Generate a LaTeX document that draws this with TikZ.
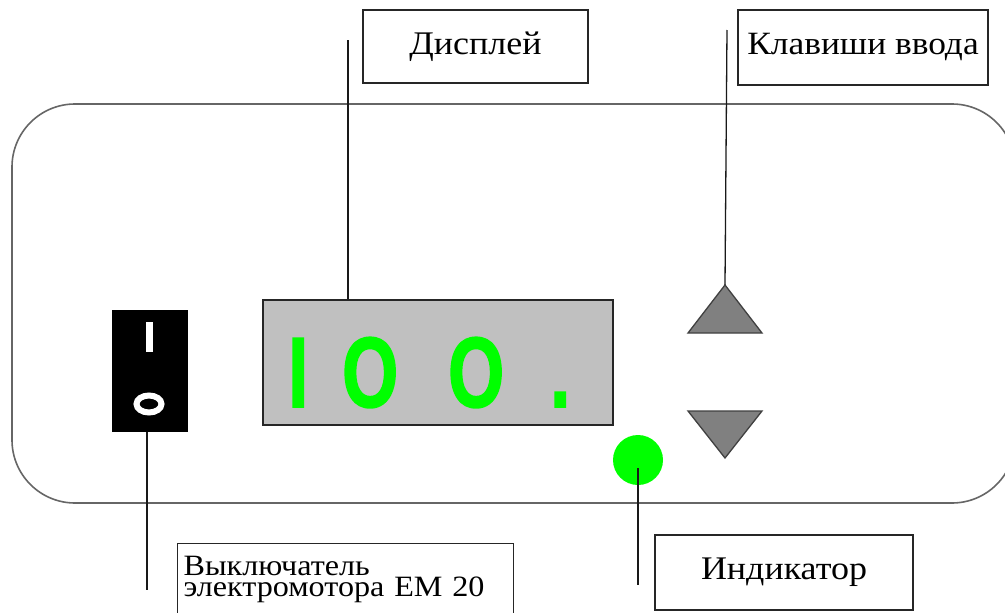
\documentclass[tikz,border=0pt]{standalone}
\usepackage{fontspec}
\setmainfont{Liberation Serif}[FakeStretch=1.09]
\newfontfamily\digitfont{Liberation Sans}[FakeStretch=0.72, FakeBold=1.5]
\usetikzlibrary{calc}
\definecolor{dispgray}{HTML}{C0C0C0}
\definecolor{keygray}{HTML}{808080}
\definecolor{ledgreen}{HTML}{00FF00}
\tikzset{
	labelbox/.style = {draw=black!85, line width=1.3pt, inner sep=0pt,
		font=\fontsize{33}{35}\selectfont, text centered},% boite de legende
	leader/.style = {draw=black!90, line width=1.3pt},% trait de rappel
	housing/.style = {draw=black!60, line width=1.6pt, rounded corners=63pt},
	keybtn/.style = {draw=black!75, line width=1.3pt, fill=keygray},% touche
	digits/.style = {inner sep=0pt, text=ledgreen,
		font=\digitfont\bfseries\fontsize{100}{100}\selectfont}
}
\begin{document}
\begin{tikzpicture}[x=1pt,y=-1pt]
	\useasboundingbox (0,0) rectangle (1005,613);
	% boitier
	\draw[housing] (12,104) rectangle (1015,503);
	% interrupteur
	\node[fill=black, inner sep=0pt, minimum width=76pt, minimum height=122pt]
		(switch) at (150,371) {};
	\draw[white, line width=7pt] (149,322) -- (149,352);
	\draw[white, line width=6pt] (149,404) ellipse (12.5pt and 8.5pt);
	% afficheur
	\node[draw=black!85, line width=1.3pt, fill=dispgray, inner sep=0pt,
		minimum width=350pt, minimum height=125pt] (disp) at (438,362.5) {};
	\node[digits, anchor=base west] (val) at (288,407)
		{I\hspace{34pt}O\hspace{50pt}O\hspace{46pt}.};
	% touches
	\coordinate (up_tip) at (725,285);
	\draw[keybtn] (688,333) -- (up_tip) -- (762,333) -- cycle;
	\coordinate (down_tip) at (725,458);
	\draw[keybtn] (688,411) -- (762,411) -- (down_tip) -- cycle;
	% voyant
	\node[circle, fill=ledgreen, minimum size=50pt, inner sep=0pt] (led) at (638,460) {};
	% legendes
	\node[labelbox, minimum width=225pt, minimum height=73pt] (disp_lbl)
		at (475.5,46.5) {Дисплей};
	\node[labelbox, minimum width=250pt, minimum height=75pt,
		font=\fontsize{32.5}{35}\selectfont] (key_lbl)
		at (863,47.5) {Клавиши ввода};
	\node[labelbox, minimum width=258pt, minimum height=75pt] (led_lbl)
		at (784,572.5) {Индикатор};
	\node[labelbox, minimum height=72pt, align=left, inner xsep=6pt,
		text width=324pt, font=\fontsize{29.5}{21}\selectfont,
		anchor=north west] (sw_lbl) at (177,543)
		{Выключатель\\электромотора ЕМ 20};
	% traits de rappel
	\coordinate (disp_end) at (348,40);
	\draw[leader] (disp_end) -- (disp_end |- disp.north);
	\coordinate (key_end) at (727,30);
	\draw[leader] (key_end) -- (up_tip);
	\coordinate (led_end) at (638,585);
	\draw[leader] ($(led.center)+(0,8)$) -- (led_end);
	\coordinate (sw_end) at (147,590);
	\draw[leader] (sw_end |- switch.south) -- (sw_end);
\end{tikzpicture}
\end{document}
